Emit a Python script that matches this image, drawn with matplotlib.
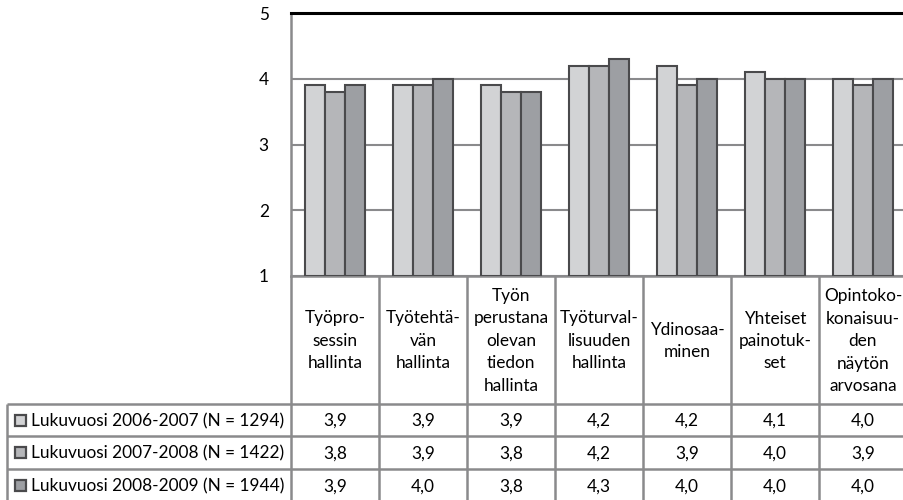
import matplotlib
matplotlib.use("Agg")
import matplotlib.pyplot as plt
import numpy as np

# kategoriat (otsikkorivi) ja sarjat
categories = ["Työpro-\nsessin\nhallinta", "Työtehtä-\nvän\nhallinta",
              "Työn\nperustana\nolevan\ntiedon\nhallinta", "Työturval-\nlisuuden\nhallinta",
              "Ydinosaa-\nminen", "Yhteiset\npainotuk-\nset",
              "Opintoko-\nkonaisuu-\nden\nnäytön\narvosana"]
series_names = ["Lukuvuosi 2006-2007 (N = 1294)",
                "Lukuvuosi 2007-2008 (N = 1422)",
                "Lukuvuosi 2008-2009 (N = 1944)"]
v_2006 = [3.9, 3.9, 3.9, 4.2, 4.2, 4.1, 4.0]
v_2007 = [3.8, 3.9, 3.8, 4.2, 3.9, 4.0, 3.9]
v_2008 = [3.9, 4.0, 3.8, 4.3, 4.0, 4.0, 4.0]
y_ticks = [1, 2, 3, 4, 5]

series = [v_2006, v_2007, v_2008]
fills = ["#d2d3d5", "#b5b6b9", "#9d9fa3"]
edge = "#4a4a4c"
grid = "#8a8a8c"

plt.rcParams['font.family'] = ['Lato', 'DejaVu Sans']
fs = 12.4

W, H = 904, 500
fig = plt.figure(figsize=(W / 100, H / 100), dpi=100)

# pikselimitat
left, top, bottom = 291, 13, 276
colw = 88
ncol = len(categories)
right = left + ncol * colw
rows_y = [404, 436, 469, 502]
lab_left = 7

ax = fig.add_axes([left / W, 1 - bottom / H, (right - left) / W, (bottom - top) / H])
x = np.arange(ncol)
bw = 0.227
for i, vals in enumerate(series):
    ax.bar(x + (i - 1) * bw, np.array(vals) - 1, bottom=1, width=bw,
           color=fills[i], edgecolor=edge, linewidth=1.5, zorder=3)

ax.set_xlim(-0.5, ncol - 0.5)
ax.set_ylim(1, 5)
ax.set_yticks(y_ticks)
ax.set_yticklabels([str(t) for t in y_ticks], fontsize=fs)
ax.set_xticks([])
ax.tick_params(axis='y', length=0, pad=16)
ax.yaxis.grid(True, color=grid, linewidth=1.5, zorder=0)
ax.set_axisbelow(True)
ax.spines['top'].set_color('black')
ax.spines['top'].set_linewidth(2.2)
for s in ['left', 'bottom']:
    ax.spines[s].set_color(grid)
    ax.spines[s].set_linewidth(1.8)
ax.spines['right'].set_visible(False)

# datataulukko pikselikoordinaateissa
tb = fig.add_axes([0, 0, 1, 1])
tb.set_xlim(0, W)
tb.set_ylim(H, 0)
tb.axis('off')
lw = 1.8
# vaakaviivat
for y in rows_y:
    tb.plot([lab_left, right], [y, y], color=grid, lw=lw, solid_capstyle='butt')
# pystyviivat
for k in range(ncol + 1):
    xe = left + k * colw
    tb.plot([xe, xe], [bottom, H + 5], color=grid, lw=lw, solid_capstyle='butt')
tb.plot([lab_left, lab_left], [rows_y[0], H + 5], color=grid, lw=lw, solid_capstyle='butt')

# otsikot
for k, cat in enumerate(categories):
    tb.text(left + (k + 0.5) * colw, (bottom + rows_y[0]) / 2 + 1, cat,
            ha='center', va='center', fontsize=fs, linespacing=1.5)

# arvot ja sarjojen nimet
for i, vals in enumerate(series):
    yc = (rows_y[i] + rows_y[i + 1]) / 2 + 1
    for k, v in enumerate(vals):
        tb.text(left + (k + 0.5) * colw, yc, f"{v:.1f}".replace('.', ','),
                ha='center', va='center', fontsize=fs)
    tb.add_patch(plt.Rectangle((15.5, yc - 6.5), 11, 11, facecolor=fills[i],
                               edgecolor=edge, linewidth=1.6))
    tb.text(31, yc, series_names[i], ha='left', va='center', fontsize=fs)

fig.savefig("out.png", dpi=100)
